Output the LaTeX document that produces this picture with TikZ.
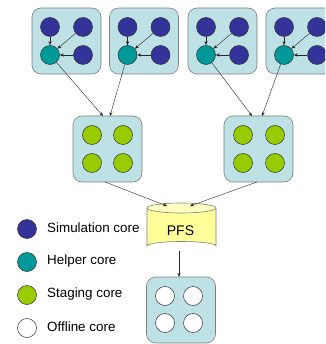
\documentclass[tikz,border=0pt]{standalone}
\usepackage{fontspec}
\setmainfont{Liberation Sans}
\usetikzlibrary{arrows.meta}
\definecolor{boxfill}{HTML}{BDE1E5}
\definecolor{boxline}{HTML}{7F7F7F}
\definecolor{simcol}{HTML}{333399}
\definecolor{helpcol}{HTML}{009999}
\definecolor{stagecol}{HTML}{99CC00}
\definecolor{pfscol}{HTML}{FFFF99}
\tikzset{
  grp/.style={draw=boxline, fill=boxfill, line width=0.6pt, rounded corners=9pt, minimum width=69pt, minimum height=66pt, inner sep=0pt},
  core/.style={circle, draw=black!80, line width=0.5pt, minimum size=19pt, inner sep=0pt},
  sim/.style={core, fill=simcol},
  helper/.style={core, fill=helpcol},
  stage/.style={core, fill=stagecol},
  offline/.style={core, fill=white},
  arr/.style={-{Stealth[length=4pt,width=3.2pt]}, line width=0.4pt, draw=black!85},
  lbl/.style={anchor=west, font=\fontsize{13.4}{15}\selectfont, inner sep=0pt}
}
\begin{document}
\begin{tikzpicture}[x=1pt,y=-1pt]
\useasboundingbox (0,0) rectangle (325,344);
\clip (0,0) rectangle (325,344);
% top groups
\foreach \i/\cx in {1/66.5, 2/144, 3/222.5, 4/300.5}{
  \node[grp] (g\i) at (\cx,41) {};
  \node[sim] (s\i a) at (\cx-16.5,27) {};
  \node[sim] (s\i b) at (\cx+16.5,27) {};
  \node[helper] (h\i) at (\cx-16.5,55) {};
  \node[sim] (s\i c) at (\cx+16.5,55) {};
  \draw[arr] (s\i a) -- (h\i);
  \draw[arr] (s\i b) -- (h\i);
  \draw[arr] (s\i c) -- (h\i);
}
% staging groups
\node[grp] (m1) at (107.5,149) {};
\node[stage] (m1a) at (92,135) {};
\node[stage] (m1b) at (123,135) {};
\node[stage] (m1c) at (92,163) {};
\node[stage] (m1d) at (123,163) {};
\node[grp] (m2) at (258.5,149) {};
\node[stage] (m2a) at (243,135) {};
\node[stage] (m2b) at (275,135) {};
\node[stage] (m2c) at (243,163) {};
\node[stage] (m2d) at (275,163) {};
\coordinate (m1in1) at (103,116);
\coordinate (m1in2) at (110,116);
\coordinate (m2in1) at (252,116);
\coordinate (m2in2) at (262,116);
\draw[arr] (h1) -- (m1in1);
\draw[arr] (h2) -- (m1in2);
\draw[arr] (h3) -- (m2in1);
\draw[arr] (h4) -- (m2in2);
% PFS cylinder
\fill[pfscol] (147,208) -- (147,246) arc[start angle=180, end angle=360, x radius=34.5, y radius=4.5] -- (216,208) arc[start angle=0, end angle=180, x radius=34.5, y radius=5] -- cycle;
\draw[boxline, line width=0.6pt] (147,208) -- (147,246) arc[start angle=180, end angle=360, x radius=34.5, y radius=4.5] -- (216,208);
\draw[boxline, line width=0.6pt, fill=pfscol!60!white] (181.5,208) ellipse[x radius=34.5, y radius=5];
\node[font=\fontsize{14}{16}\selectfont, inner sep=0pt] (pfs) at (180.5,231) {PFS};
\coordinate (pfsin1) at (167,206);
\coordinate (pfsin2) at (190,206);
\coordinate (m1out) at (105,182);
\coordinate (m2out) at (257,182);
\coordinate (pfsout) at (179,251);
\draw[arr] (m1out) -- (pfsin1);
\draw[arr] (m2out) -- (pfsin2);
% offline group
\node[grp] (b) at (181,310) {};
\node[offline] (ba) at (165,296) {};
\node[offline] (bb) at (193,296) {};
\node[offline] (bc) at (165,323) {};
\node[offline] (bd) at (193,323) {};
\coordinate (bin) at (179,277);
\draw[arr] (pfsout) -- (bin);
% legend
\node[sim] (l1) at (27,229) {};
\node[helper] (l2) at (27,262) {};
\node[stage] (l3) at (27,295) {};
\node[offline] (l4) at (27,328) {};
\node[lbl] (t1) at (47,228) {Simulation core};
\node[lbl] (t2) at (47,261) {Helper core};
\node[lbl] (t3) at (47,294) {Staging core};
\node[lbl] (t4) at (47,327) {Offline core};
\end{tikzpicture}
\end{document}
